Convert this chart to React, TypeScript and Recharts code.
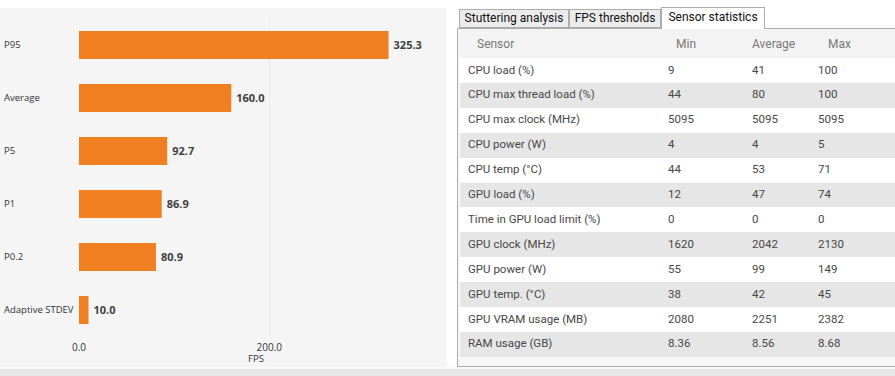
import React from "react";
import { BarChart, Bar, XAxis, YAxis, CartesianGrid, LabelList } from "recharts";

const categories = ["P95", "Average", "P5", "P1", "P0.2", "Adaptive STDEV"];
const fpsValues = [325.3, 160.0, 92.7, 86.9, 80.9, 10.0];
const xTicks = [0, 200];

const tabs = ["Stuttering analysis", "FPS thresholds", "Sensor statistics"];
const sensors = [
  "CPU load (%)",
  "CPU max thread load (%)",
  "CPU max clock (MHz)",
  "CPU power (W)",
  "CPU temp (°C)",
  "GPU load (%)",
  "Time in GPU load limit (%)",
  "GPU clock (MHz)",
  "GPU power (W)",
  "GPU temp. (°C)",
  "GPU VRAM usage (MB)",
  "RAM usage (GB)",
];
const sensorMin = ["9", "44", "5095", "4", "44", "12", "0", "1620", "55", "38", "2080", "8.36"];
const sensorAvg = ["41", "80", "5095", "4", "53", "47", "0", "2042", "99", "42", "2251", "8.56"];
const sensorMax = ["100", "100", "5095", "5", "71", "74", "0", "2130", "149", "45", "2382", "8.68"];

const data = categories.map((name, i) => ({ name, fps: fpsValues[i] }));

const chartFont = "'Open Sans', 'DejaVu Sans', sans-serif";
const tableFont = "Roboto, 'Open Sans', sans-serif";

const CategoryTick = (props: any) => {
  const { y, payload } = props;
  return (
    <text x={4} y={y} dy={3.5} textAnchor="start" fontSize={9.5} fill="#333" fontFamily={chartFont}>
      {payload.value}
    </text>
  );
};

export default function App() {
  const rowH = 24.9;
  return (
    <div
      style={{
        position: "absolute",
        left: 0,
        top: 0,
        width: 895,
        height: 376,
        background: "#fff",
        overflow: "hidden",
      }}
    >
      {/* chart panel */}
      <div style={{ position: "absolute", left: 0, top: 8, width: 447, height: 359, background: "#f5f5f5" }}>
        <BarChart
          width={447}
          height={359}
          data={data}
          layout="vertical"
          margin={{ top: 10, right: 14, bottom: 7, left: 0 }}
        >
          <CartesianGrid horizontal={false} stroke="#ececec" verticalValues={[200]} />
          <XAxis
            type="number"
            domain={[0, 372]}
            ticks={xTicks}
            tickFormatter={(v: number) => v.toFixed(1)}
            axisLine={false}
            tickLine={false}
            height={24}
            tick={{ fontSize: 10, fill: "#333", fontFamily: chartFont }}
            label={{ value: "FPS", position: "insideBottom", offset: -1.5, fontSize: 9.5, fill: "#333", fontFamily: chartFont }}
          />
          <YAxis
            type="category"
            dataKey="name"
            width={79}
            axisLine={false}
            tickLine={false}
            tick={<CategoryTick />}
          />
          <Bar dataKey="fps" fill="#f07f21" barSize={28} isAnimationActive={false}>
            <LabelList
              dataKey="fps"
              position="right"
              offset={5}
              formatter={(v: any) => Number(v).toFixed(1)}
              style={{ fontSize: 11, fontWeight: 700, fill: "#3f3f3f", fontFamily: chartFont }}
            />
          </Bar>
        </BarChart>
      </div>
      <div style={{ position: "absolute", left: 0, top: 367, width: 895, height: 2, background: "#f9f9f9" }} />
      <div style={{ position: "absolute", left: 0, top: 369, width: 895, height: 7, background: "#e6e6e6" }} />

      {/* tabs */}
      {tabs.map((t, i) => {
        const lefts = [459, 569, 661];
        const widths = [110, 92, 104];
        const sel = i === 2;
        return (
          <div
            key={t}
            style={{
              position: "absolute",
              left: lefts[i],
              top: sel ? 7 : 9,
              width: widths[i],
              height: sel ? 22 : 19,
              boxSizing: "border-box",
              background: sel ? "#fff" : "#ebebeb",
              border: "1px solid #acacac",
              borderBottom: sel ? "none" : "1px solid #acacac",
              fontFamily: tableFont,
              fontSize: 12,
              color: "#111",
              textAlign: "center",
              lineHeight: sel ? "19px" : "17px",
              zIndex: sel ? 2 : 1,
            }}
          >
            {t}
          </div>
        );
      })}

      {/* table */}
      <div
        style={{
          position: "absolute",
          left: 457,
          top: 28,
          width: 445,
          height: 339,
          boxSizing: "border-box",
          border: "1px solid #acacac",
          background: "#f7f7f7",
          fontFamily: tableFont,
          fontSize: 11.5,
          zIndex: 1,
        }}
      >
        <div style={{ position: "absolute", left: 2, top: 0, right: 0, height: 29, background: "#f3f3f3", color: "#777", fontSize: 12 }}>
          {["Sensor", "Min", "Average", "Max"].map((h, i) => (
            <span key={h} style={{ position: "absolute", left: [17, 216, 292, 368][i], top: 8 }}>
              {h}
            </span>
          ))}
        </div>
        {sensors.map((s, r) => (
          <div
            key={s}
            style={{
              position: "absolute",
              left: 2,
              right: 0,
              top: 29 + r * rowH,
              height: rowH,
              background: r % 2 === 0 ? "#fff" : "#e6e6e6",
              color: "#474747",
            }}
          >
            {[s, sensorMin[r], sensorAvg[r], sensorMax[r]].map((c, i) => (
              <span key={i} style={{ position: "absolute", left: [8, 208, 292, 358][i], top: 4.5 }}>
                {c}
              </span>
            ))}
          </div>
        ))}
      </div>
    </div>
  );
}
